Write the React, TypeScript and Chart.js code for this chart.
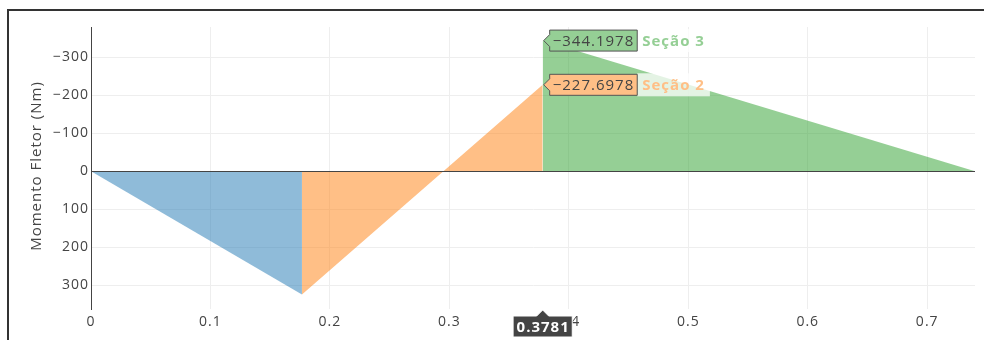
import React, { useEffect, useRef } from "react";
import { Chart, registerables } from "chart.js";

Chart.register(...registerables);

const sec1X = [0, 0.1766];
const sec1Y = [0, 325];
const sec2X = [0.1766, 0.3781];
const sec2Y = [325, -227.6978];
const sec3X = [0.3781, 0.74];
const sec3Y = [-344.1978, 0];
const seriesNames = ["Seção 1", "Seção 2", "Seção 3"];
const fillColors = ["rgba(31,119,180,0.5)", "rgba(255,127,14,0.5)", "rgba(44,160,44,0.5)"];
const solidColors = ["rgb(143,187,217)", "rgb(255,191,134)", "rgb(149,207,149)"];
const xTicks = [0, 0.1, 0.2, 0.3, 0.4, 0.5, 0.6, 0.7];
const yTicks = [-300, -200, -100, 0, 100, 200, 300];
const hoverX = 0.3781;
const yTitle = "Momento Fletor (Nm)";
const FONT = "'Open Sans', 'DejaVu Sans', sans-serif";

const fmt = (v: number) => (v < 0 ? "\u2212" + Math.abs(v) : String(v));

function pts(xs: number[], ys: number[]) {
  return xs.map((x, i) => ({ x, y: ys[i] }));
}

const overlay = {
  id: "overlay",
  beforeDraw(chart: any) {
    (chart.ctx as any).letterSpacing = "1px";
  },
  afterDatasetsDraw(chart: any) {
    const { ctx, chartArea, scales } = chart;
    const ys = scales.y;
    ctx.save();
    const y0 = ys.getPixelForValue(0);
    ctx.strokeStyle = "#444";
    ctx.lineWidth = 1;
    ctx.beginPath();
    ctx.moveTo(chartArea.left, Math.round(y0) + 0.5);
    ctx.lineTo(chartArea.right, Math.round(y0) + 0.5);
    ctx.stroke();
    ctx.restore();
  },
  afterDraw(chart: any) {
    const { ctx, chartArea, scales } = chart;
    const xs = scales.x;
    const ys = scales.y;
    ctx.save();
    (ctx as any).letterSpacing = "1px";
    // y axis title
    ctx.save();
    ctx.translate(37, (chartArea.top + chartArea.bottom) / 2 - 2);
    ctx.rotate(-Math.PI / 2);
    ctx.fillStyle = "#444";
    ctx.font = "15px " + FONT;
    ctx.textAlign = "center";
    ctx.textBaseline = "middle";
    ctx.fillText(yTitle, 0, 0);
    ctx.restore();

    // hover labels
    const hx = xs.getPixelForValue(hoverX);
    const labels = [
      { v: sec3Y[0], name: seriesNames[2], c: 2 },
      { v: sec2Y[1], name: seriesNames[1], c: 1 },
    ];
    ctx.font = "15px " + FONT;
    for (const l of labels) {
      const py = ys.getPixelForValue(l.v);
      const txt = fmt(l.v);
      ctx.font = "15px " + FONT;
      const tw = ctx.measureText(txt).width;
      const h = 21;
      const a = 6;
      const x0 = hx + 1;
      const bw = tw + 6;
      ctx.font = "bold 15px " + FONT;
      const nw = ctx.measureText(l.name).width;
      ctx.fillStyle = "rgba(255,255,255,0.75)";
      ctx.fillRect(x0 + a + bw, py - h / 2 - 1, nw + 10, h + 2);
      ctx.beginPath();
      ctx.moveTo(x0, py);
      ctx.lineTo(x0 + a, py - a);
      ctx.lineTo(x0 + a, py - h / 2);
      ctx.lineTo(x0 + a + bw, py - h / 2);
      ctx.lineTo(x0 + a + bw, py + h / 2);
      ctx.lineTo(x0 + a, py + h / 2);
      ctx.lineTo(x0 + a, py + a);
      ctx.closePath();
      ctx.fillStyle = solidColors[l.c];
      ctx.fill();
      ctx.strokeStyle = "#555";
      ctx.lineWidth = 1;
      ctx.stroke();
      ctx.font = "15px " + FONT;
      ctx.fillStyle = "#444";
      ctx.textAlign = "left";
      ctx.textBaseline = "middle";
      ctx.fillText(txt, x0 + a + 3, py + 1);
      ctx.fillStyle = solidColors[l.c];
      ctx.font = "bold 15px " + FONT;
      ctx.fillText(l.name, x0 + a + bw + 5, py + 1);
    }

    // x hover label
    const xt = String(hoverX);
    ctx.font = "bold 15px " + FONT;
    const xw = ctx.measureText(xt).width + 6;
    const by = chartArea.bottom + 1;
    const a2 = 6;
    const bh = 21;
    ctx.beginPath();
    ctx.moveTo(hx, by);
    ctx.lineTo(hx + a2, by + a2);
    ctx.lineTo(hx + xw / 2, by + a2);
    ctx.lineTo(hx + xw / 2, by + a2 + bh);
    ctx.lineTo(hx - xw / 2, by + a2 + bh);
    ctx.lineTo(hx - xw / 2, by + a2);
    ctx.lineTo(hx - a2, by + a2);
    ctx.closePath();
    ctx.fillStyle = "#444";
    ctx.fill();
    ctx.strokeStyle = "#fff";
    ctx.stroke();
    ctx.fillStyle = "#fff";
    ctx.textAlign = "center";
    ctx.textBaseline = "middle";
    ctx.fillText(xt, hx + 0.5, by + a2 + bh / 2 + 1);
    ctx.restore();
  },
};

export default function App() {
  const ref = useRef<HTMLCanvasElement>(null);
  useEffect(() => {
    if (!ref.current) return;
    const ds = [pts(sec1X, sec1Y), pts(sec2X, sec2Y), pts(sec3X, sec3Y)].map((d, i) => ({
      label: seriesNames[i],
      data: d,
      fill: "origin",
      backgroundColor: fillColors[i],
      borderColor: fillColors[i],
      borderWidth: 0,
      pointRadius: 0,
      tension: 0,
    }));
    const chart = new Chart(ref.current, {
      type: "line",
      data: { datasets: ds as any },
      options: {
        animation: false,
        responsive: false,
        devicePixelRatio: 1,
        layout: { padding: { left: 0, right: 9, top: 27, bottom: 0 } },
        plugins: { legend: { display: false }, tooltip: { enabled: false } },
        scales: {
          x: {
            type: "linear",
            min: 0,
            max: 0.74,
            afterBuildTicks: (s: any) => {
              s.ticks = xTicks.map((v) => ({ value: v }));
            },
            afterFit: (s: any) => {
              s.height = 31;
            },
            border: { display: false },
            grid: { color: "#eee", drawTicks: false, lineWidth: 1 },
            ticks: {
              padding: 5,
              color: "#444",
              font: { family: FONT, size: 14 },
              callback: (v: any) => fmt(Math.round(Number(v) * 10) / 10),
              maxRotation: 0,
            },
          },
          y: {
            type: "linear",
            reverse: true,
            min: -380,
            max: 363,
            afterBuildTicks: (s: any) => {
              s.ticks = yTicks.map((v) => ({ value: v }));
            },
            afterFit: (s: any) => {
              s.width = 91;
            },
            border: { display: true, color: "#444", width: 1 },
            grid: { color: "#eee", drawTicks: false, lineWidth: 1 },
            ticks: {
              padding: 2,
              color: "#444",
              font: { family: FONT, size: 14 },
              callback: (v: any) => fmt(Number(v)),
            },
          },
        },
      },
      plugins: [overlay],
    });
    return () => chart.destroy();
  }, []);
  return (
    <div style={{ position: "absolute", left: 0, top: 0, width: 984, height: 340, overflow: "hidden", background: "#fff" }}>
      <div
        style={{
          position: "absolute",
          left: 7,
          top: 9,
          width: 977,
          height: 331,
          borderLeft: "2px solid #333",
          borderTop: "2px solid #333",
          boxSizing: "border-box",
        }}
      />
      <canvas ref={ref} width={984} height={340} style={{ position: "absolute", left: 0, top: 0, display: "block" }} />
    </div>
  );
}
